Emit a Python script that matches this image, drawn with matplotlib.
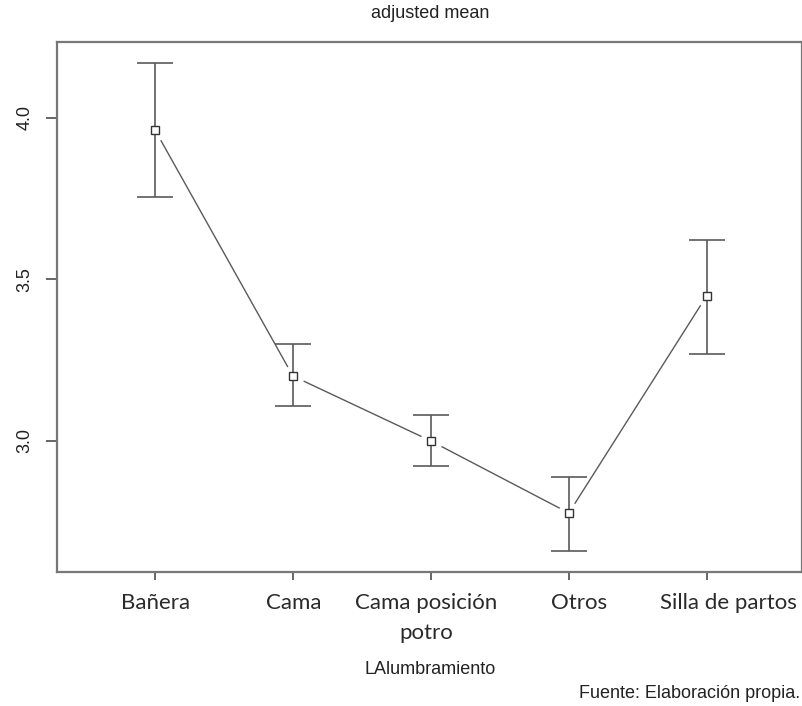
import matplotlib
matplotlib.use("Agg")
import matplotlib.pyplot as plt
import matplotlib.transforms as mtransforms
import numpy as np

categories = ["Bañera", "Cama", "Cama posición\npotro", "Otros", "Silla de partos"]
means = [3.963, 3.201, 3.000, 2.777, 3.450]
lower = [3.755, 3.108, 2.923, 2.660, 3.270]
upper = [4.170, 3.300, 3.080, 2.889, 3.623]
yticks = [3.0, 3.5, 4.0]
label_shift_px = [1, 1, -5, 10, 22]

fig = plt.figure(figsize=(8.03, 7.06), dpi=100)
ax = fig.add_axes([57/803, (706-572)/706, (802-57)/803, (572-42)/706])

x = np.arange(1, len(categories) + 1)
means_a = np.array(means)
yerr = np.vstack([means_a - np.array(lower), np.array(upper) - means_a])

lc = "#5a5a5a"
ax.plot(x, means_a, color=lc, lw=1.0, zorder=1)
ax.plot(x, means_a, ls="none", marker="o", ms=15, mfc="white", mec="white", zorder=2)
ax.errorbar(x, means_a, yerr=yerr, fmt="none", ecolor=lc, elinewidth=1.2,
            capsize=13, capthick=1.2, zorder=3)
ax.plot(x, means_a, ls="none", marker="s", ms=5.8, mfc="white", mec="#333333",
        mew=1.0, zorder=4)

ax.set_xlim(0.29, 5.69)
ax.set_ylim(2.5944, 4.235)
ax.set_xticks(x)
ax.set_xticklabels([])
base = ax.get_xaxis_transform()
for xi, lab, dx in zip(x, categories, label_shift_px):
    off = mtransforms.ScaledTranslation(dx / 100, -21 / 100, fig.dpi_scale_trans)
    ax.text(xi, 0, lab, transform=base + off, ha="center", va="top",
            fontsize=16, family=["Lato", "DejaVu Sans"], color="#2a2a2a",
            linespacing=1.65, multialignment="center", clip_on=False)
ax.set_yticks(yticks)
ax.set_yticklabels([f"{v:.1f}" for v in yticks], fontsize=13, family="Liberation Sans",
                   rotation=90, va="center", color="#222222")
ax.tick_params(axis="x", length=5.5, width=1.4, color="#666666", pad=7)
ax.tick_params(axis="y", length=8, width=1.4, color="#666666", pad=9)
for s in ax.spines.values():
    s.set_color("#777777")
    s.set_linewidth(1.6)

fig.text(430/803, 1 - 14/706, "adjusted mean", ha="center", va="center",
         fontsize=13, family="Liberation Sans", color="#222222")
fig.text(430/803, 1 - 670/706, "LAlumbramiento", ha="center", va="center",
         fontsize=13, family="Liberation Sans", color="#222222")
fig.text(800/803, 1 - 693/706, "Fuente: Elaboración propia.", ha="right", va="center",
         fontsize=13, family="Liberation Sans", color="#222222")

fig.savefig("out.png", dpi=100)
